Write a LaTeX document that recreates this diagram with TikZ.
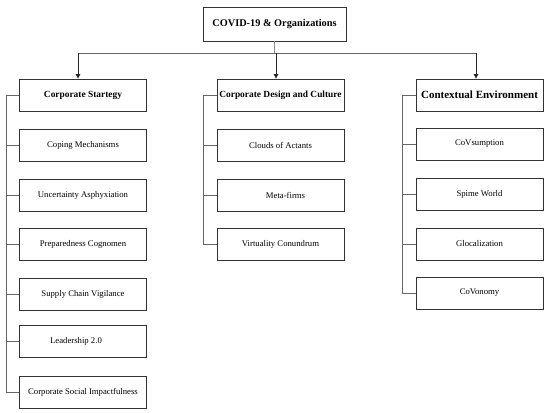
\documentclass[tikz,border=0pt]{standalone}
\usepackage{fontspec}
\setmainfont{Liberation Serif}
\usetikzlibrary{arrows.meta}
\begin{document}
\begin{tikzpicture}[x=1pt,y=-1pt,
  box/.style={draw=black!80,line width=0.8pt,minimum width=127pt,minimum height=32pt,inner sep=0pt,font=\fontsize{8.7}{10}\selectfont},
  head/.style={box,font=\bfseries\fontsize{9.4}{11}\selectfont},
  conn/.style={draw=black!60,line width=0.7pt},
  arr/.style={draw=black!85,line width=0.8pt,-{Triangle[width=4.5pt,length=4.5pt]}}]
\useasboundingbox (0,0) rectangle (550,413);
\node[box,minimum width=143pt,minimum height=34pt,font=\bfseries\fontsize{10.3}{12}\selectfont] (top) at (274.5,24) {COVID-19 \& Organizations};
\node[head] (lh) at (83,95) {Corporate Startegy};
\node[head] (mh) at (280.5,95) {Corporate Design and Culture};
\node[head,font=\bfseries\fontsize{11}{13}\selectfont] (rh) at (479.5,95) {Contextual Environment};
% left column
\node[box] (l1) at (83,145) {Coping Mechanisms};
\node[box] (l2) at (83,195) {Uncertainty Asphyxiation};
\node[box] (l3) at (83,244) {Preparedness Cognomen};
\node[box] (l4) at (83,294) {Supply Chain Vigilance};
\node[box] (l5) at (83,341) {\hspace*{-14pt}Leadership 2.0};
\node[box] (l6) at (83,392) {Corporate Social Impactfulness};
% middle column
\node[box] (m1) at (280.5,145) {Clouds of Actants};
\node[box] (m2) at (280.5,195) {\hspace*{10pt}Meta-firms};
\node[box] (m3) at (280.5,244) {Virtuality Conundrum};
% right column
\node[box] (r1) at (479.5,144) {CoVsumption};
\node[box] (r2) at (479.5,194) {Spime World};
\node[box] (r3) at (479.5,244) {Glocalization};
\node[box] (r4) at (479.5,293) {CoVonomy};
% top connectors
\coordinate (bus) at (0,53);
\draw[conn,draw=black!45] (top.south) -- (top.south |- bus);
\draw[conn] ([xshift=-5pt]lh.north |- bus) -- ([xshift=-3.5pt]rh.north |- bus);
\draw[arr] ([xshift=-5pt]lh.north |- bus) -- ([xshift=-5pt]lh.north);
\draw[arr] ([xshift=-4.5pt]mh.north |- bus) -- ([xshift=-4.5pt]mh.north);
\draw[arr] ([xshift=-3.5pt]rh.north |- bus) -- ([xshift=-3.5pt]rh.north);
% spines
\coordinate (ls) at (6,0);
\coordinate (ms) at (203,0);
\coordinate (rs) at (402,0);
\draw[conn] (lh.west) -- (lh.west -| ls) -- (l6.west -| ls) -- (l6.west);
\foreach \n in {l1,l2,l3,l4,l5} \draw[conn] (\n.west -| ls) -- (\n.west);
\draw[conn] (mh.west) -- (mh.west -| ms) -- (m3.west -| ms) -- (m3.west);
\foreach \n in {m1,m2} \draw[conn] (\n.west -| ms) -- (\n.west);
\draw[conn] (rh.west) -- (rh.west -| rs) -- (r4.west -| rs) -- (r4.west);
\foreach \n in {r1,r2,r3} \draw[conn] (\n.west -| rs) -- (\n.west);
\end{tikzpicture}
\end{document}
